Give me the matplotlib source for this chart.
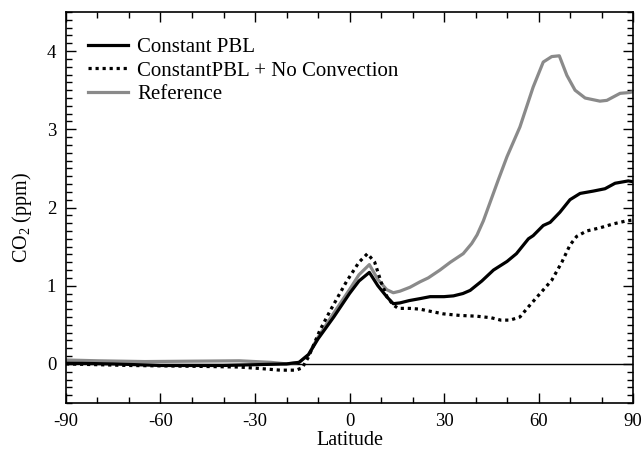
import matplotlib
matplotlib.use('Agg')
import matplotlib.pyplot as plt
from matplotlib.ticker import MultipleLocator

plt.rcParams['font.family'] = 'Liberation Serif'
plt.rcParams['mathtext.fontset'] = 'custom'
plt.rcParams['mathtext.rm'] = 'Liberation Serif'
plt.rcParams['axes.unicode_minus'] = False

# Constant PBL (solid black)
lat_pbl = [-90, -75, -60, -40, -30, -20, -16, -13, -10, -5, 0, 3, 6.3, 9, 11.8, 13.9, 16, 19, 22.4,
           25.6, 30, 33, 36, 38.3, 42, 45.7, 50, 53, 56.8, 58.3, 61.5, 63.7, 66.8, 70, 73.2, 77.4,
           81.1, 84.3, 88.5, 90]
co2_pbl = [0.01, 0.0, -0.02, -0.02, -0.01, 0.0, 0.02, 0.12, 0.32, 0.6, 0.9, 1.06, 1.17, 1.0, 0.86,
           0.77, 0.78, 0.81, 0.835, 0.86, 0.86, 0.87, 0.9, 0.94, 1.06, 1.2, 1.31, 1.41, 1.6, 1.64,
           1.77, 1.81, 1.94, 2.1, 2.18, 2.21, 2.24, 2.31, 2.34, 2.33]

# ConstantPBL + No Convection (dotted)
lat_noconv = [-90, -70, -50, -35, -28, -22, -17, -15, -13, -9.4, -6, -1, 3, 5.7, 8, 10, 12, 14, 15.5,
              19.2, 22.4, 26, 29.8, 35, 40.4, 45, 48, 51, 54.1, 56.8, 60.5, 64.2, 67.4, 70, 72.1,
              75.3, 79.5, 83.7, 88, 90]
co2_noconv = [0.0, -0.02, -0.03, -0.04, -0.06, -0.08, -0.08, -0.05, 0.09, 0.43, 0.69, 1.05, 1.3,
              1.41, 1.3, 1.05, 0.85, 0.75, 0.71, 0.71, 0.7, 0.67, 0.64, 0.62, 0.61, 0.59, 0.56,
              0.56, 0.6, 0.73, 0.9, 1.07, 1.3, 1.52, 1.63, 1.7, 1.74, 1.79, 1.83, 1.84]

# Reference (gray)
lat_ref = [-90, -80, -65, -50, -35, -25, -20, -16, -13, -10, -5, 0, 3, 6.3, 9, 11.8, 13.9, 16, 19.2,
           22.4, 25, 28.7, 32, 36.1, 38.8, 40.5, 42.5, 47.2, 50, 54.1, 58.3, 61.5, 64.2, 66.6, 69,
           71.6, 74.8, 79.5, 81.7, 85.9, 88.8, 90]
co2_ref = [0.05, 0.04, 0.03, 0.035, 0.04, 0.02, 0.0, 0.02, 0.12, 0.34, 0.65, 0.95, 1.14, 1.27, 1.08,
           0.95, 0.91, 0.93, 0.98, 1.05, 1.1, 1.2, 1.3, 1.41, 1.54, 1.65, 1.83, 2.35, 2.65, 3.03,
           3.54, 3.86, 3.93, 3.94, 3.69, 3.5, 3.4, 3.36, 3.37, 3.46, 3.47, 3.48]

fig = plt.figure(figsize=(6.42, 4.51), dpi=100)
ax = fig.add_axes([0.1028, 0.1064, 0.8832, 0.867])

ax.axhline(0, color='black', lw=1.0, zorder=1)
ax.plot(lat_ref, co2_ref, color='#8a8a8a', lw=2.3, label='Reference', zorder=2)
ax.plot(lat_noconv, co2_noconv, color='black', lw=2.3, ls=(0, (1, 1.2)),
        label='ConstantPBL + No Convection', zorder=3)
ax.plot(lat_pbl, co2_pbl, color='black', lw=2.3, label='Constant PBL', zorder=4)

ax.set_xlim(-90, 90)
ax.set_ylim(-0.5, 4.5)
ax.xaxis.set_major_locator(MultipleLocator(30))
ax.xaxis.set_minor_locator(MultipleLocator(10))
ax.yaxis.set_major_locator(MultipleLocator(1))
ax.yaxis.set_minor_locator(MultipleLocator(0.1))
ax.tick_params(which='both', direction='in', top=True, right=True, labelsize=13.5, width=1.0)
ax.tick_params(which='major', length=7, pad=7)
ax.tick_params(which='minor', length=4)
for s in ax.spines.values():
    s.set_linewidth(1.2)

ax.set_xlabel('Latitude', fontsize=14.5, labelpad=1)
ax.set_ylabel('CO$_2$ (ppm)', fontsize=14.5)
ax.yaxis.set_label_coords(-0.057, 0.475)

handles, labels = ax.get_legend_handles_labels()
order = [2, 1, 0]
ax.legend([handles[i] for i in order], [labels[i] for i in order], loc='upper left',
          frameon=False, fontsize=15, handlelength=1.9, handletextpad=0.45,
          labelspacing=0.2, borderpad=0, borderaxespad=0, bbox_to_anchor=(0.039, 0.935))

fig.savefig('out.png', dpi=100)
